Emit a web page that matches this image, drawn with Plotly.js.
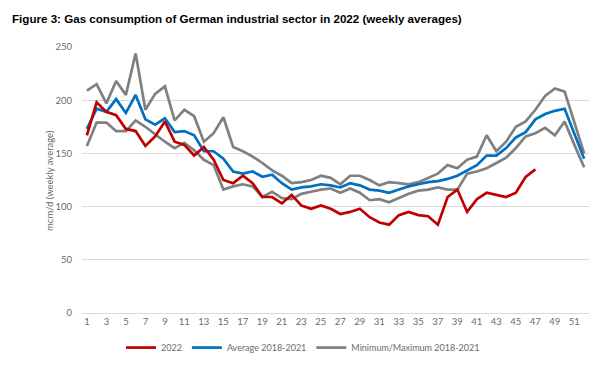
<!DOCTYPE html>
<html>
<head>
<meta charset="utf-8">
<script src="https://cdn.plot.ly/plotly-3.0.1.min.js"></script>
<style>html,body{margin:0;padding:0;background:#fff;}#chart{width:607px;height:365px;}</style>
</head>
<body>
<div id="chart"></div>
<script>
const weeks = Array.from({length: 52}, (_, i) => i + 1);
const weeks2022 = weeks.slice(0, 47);
const tickWeeks = [1,3,5,7,9,11,13,15,17,19,21,23,25,27,29,31,33,35,37,39,41,43,45,47,49,51];
const tickLabels = tickWeeks.map(String);
const yTitle = 'mcm/d (weekly average)';

const values2022 = [167,198,189,186,173,171,157,166,180,161,158,148,156,144,125,122,129,122,109,109,103,111,101,98,101,98,93,95,98,90,85,83,92,95,92,91,83,109,116,95,107,113,111,109,113,128,135];
const average = [173,192,189,201,188,205,182,177,183,170,171,167,152,152,145,133,131,133,128,130,122,116,118,119,121,120,118,122,120,116,115,113,116,119,121,123,124,126,129,134,139,148,148,155,165,170,182,187,190,192,168,145];
const minimum = [157,179,179,171,171,181,175,168,161,155,160,153,144,139,116,119,121,119,109,114,108,107,112,114,116,117,113,117,113,106,107,104,108,112,115,116,118,116,116,131,133,136,141,146,155,166,169,174,167,180,158,137];
const maximum = [209,215,197,218,205,244,191,206,213,181,191,185,161,169,184,156,152,147,141,134,129,122,123,125,129,127,121,129,129,125,120,123,122,121,123,127,131,139,136,144,147,167,152,161,175,180,191,204,211,208,179,150];

const names = ['2022', 'Average 2018-2021', 'Minimum/Maximum 2018-2021'];
const RED = '#C00000', BLUE = '#0070C0', GRAY = '#808080';
const LW = 2.7;

const traces = [
  {x: weeks, y: minimum, type: 'scatter', mode: 'lines', name: names[2], line: {color: GRAY, width: LW}, legendrank: 3, showlegend: true, hoverinfo: 'skip'},
  {x: weeks, y: maximum, type: 'scatter', mode: 'lines', name: names[2], line: {color: GRAY, width: LW}, showlegend: false, hoverinfo: 'skip'},
  {x: weeks, y: average, type: 'scatter', mode: 'lines', name: names[1], line: {color: BLUE, width: LW}, legendrank: 2, hoverinfo: 'skip'},
  {x: weeks2022, y: values2022, type: 'scatter', mode: 'lines', name: names[0], line: {color: RED, width: LW}, legendrank: 1, hoverinfo: 'skip'}
];

const tickFont = {family: 'Lato, "Open Sans", "Liberation Sans", sans-serif', size: 9.5, color: '#6b6b6b'};
const legendFont = {family: 'Lato, "Open Sans", "Liberation Sans", sans-serif', size: 9, color: '#6b6b6b'};

const layout = {
  width: 607, height: 365,
  paper_bgcolor: '#ffffff', plot_bgcolor: '#ffffff',
  margin: {l: 82, r: 18.4, t: 46.7, b: 51.7, pad: 0, autoexpand: false},
  title: {
    text: '<b>Figure 3: Gas consumption of German industrial sector in 2022 (weekly averages)</b>',
    font: {family: '"Liberation Sans", Arial, sans-serif', size: 11.6, color: '#000000'},
    xref: 'container', yref: 'container', x: 12/607, xanchor: 'left', y: 1 - 19/365, yanchor: 'middle'
  },
  xaxis: {
    range: [0.5, 52.5], tickmode: 'array', tickvals: tickWeeks, ticktext: tickLabels,
    showgrid: false, zeroline: false, showline: true, linecolor: '#d9d9d9', linewidth: 1,
    ticks: '', tickfont: tickFont, fixedrange: true, automargin: false
  },
  yaxis: {
    range: [0, 250], tickvals: [0, 50, 100, 150, 200, 250],
    showgrid: true, gridcolor: '#d9d9d9', gridwidth: 1, zeroline: false, showline: false,
    ticks: '', ticklen: 0, tickfont: tickFont, ticklabelstandoff: 9,
    fixedrange: true, automargin: false
  },
  annotations: [{
    text: yTitle, textangle: -90, showarrow: false,
    xref: 'paper', yref: 'paper', x: (49 - 82) / 506.6, y: 0.5,
    xanchor: 'center', yanchor: 'middle', font: tickFont
  }],
  showlegend: true,
  legend: {
    orientation: 'h', xref: 'container', x: 121/607, xanchor: 'left', y: -0.13, yanchor: 'middle',
    font: legendFont, itemwidth: 30, tracegroupgap: 0, bgcolor: 'rgba(0,0,0,0)'
  },
  hovermode: false
};

Plotly.newPlot('chart', traces, layout, {displayModeBar: false, staticPlot: true});
</script>
</body>
</html>
